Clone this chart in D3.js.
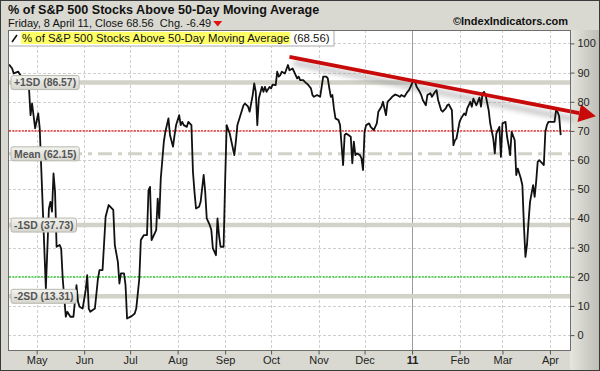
<!DOCTYPE html>
<html>
<head>
<meta charset="utf-8">
<script src="https://cdn.jsdelivr.net/npm/d3@7"></script>
<style>
  html, body { margin: 0; padding: 0; background: #fff; }
  svg { display: block; }
</style>
</head>
<body>
<svg width="600" height="371"></svg>
<script>
// % of S&P 500 stocks above their 50-day MA, Apr 2010 - Apr 2011

const dates = [
  "2010-04-13","2010-04-15","2010-04-16","2010-04-19","2010-04-20","2010-04-23","2010-04-26","2010-04-27","2010-04-28","2010-04-30",
  "2010-05-02","2010-05-03","2010-05-04","2010-05-07","2010-05-09","2010-05-10","2010-05-11","2010-05-12","2010-05-13","2010-05-14",
  "2010-05-16","2010-05-17","2010-05-18","2010-05-20","2010-05-21","2010-05-23","2010-05-25","2010-05-27","2010-05-28","2010-05-29","2010-05-31",
  "2010-06-02","2010-06-03","2010-06-04","2010-06-05","2010-06-08","2010-06-10","2010-06-11","2010-06-13","2010-06-15","2010-06-17",
  "2010-06-20","2010-06-21","2010-06-23","2010-06-24","2010-06-25","2010-06-27","2010-06-28","2010-06-29",
  "2010-07-02","2010-07-04","2010-07-05","2010-07-07","2010-07-08","2010-07-10","2010-07-12","2010-07-13","2010-07-14","2010-07-15",
  "2010-07-18","2010-07-19","2010-07-20","2010-07-21","2010-07-23","2010-07-24","2010-07-26","2010-07-27","2010-07-29","2010-07-30","2010-07-31",
  "2010-08-02","2010-08-03","2010-08-04","2010-08-05","2010-08-07","2010-08-08","2010-08-10","2010-08-11","2010-08-12","2010-08-13",
  "2010-08-15","2010-08-16","2010-08-18","2010-08-19","2010-08-20","2010-08-22","2010-08-23","2010-08-24","2010-08-25","2010-08-26",
  "2010-08-27","2010-08-28","2010-08-29","2010-08-31",
  "2010-09-01","2010-09-02","2010-09-04","2010-09-07","2010-09-08","2010-09-09","2010-09-11","2010-09-13","2010-09-14","2010-09-16",
  "2010-09-17","2010-09-19","2010-09-20","2010-09-21","2010-09-22","2010-09-23","2010-09-25","2010-09-26","2010-09-27","2010-09-28","2010-09-30",
  "2010-10-01","2010-10-02","2010-10-04","2010-10-05","2010-10-06","2010-10-07","2010-10-08","2010-10-10","2010-10-12","2010-10-13",
  "2010-10-15","2010-10-16","2010-10-18","2010-10-19","2010-10-20","2010-10-22","2010-10-23","2010-10-25","2010-10-27","2010-10-28",
  "2010-10-29","2010-10-31",
  "2010-11-02","2010-11-03","2010-11-04","2010-11-06","2010-11-07","2010-11-08","2010-11-09","2010-11-10","2010-11-11","2010-11-12",
  "2010-11-14","2010-11-15","2010-11-16","2010-11-17","2010-11-18","2010-11-19","2010-11-20","2010-11-22","2010-11-23","2010-11-24",
  "2010-11-25","2010-11-26","2010-11-28","2010-11-29","2010-11-30",
  "2010-12-01","2010-12-02","2010-12-04","2010-12-05","2010-12-07","2010-12-09","2010-12-10","2010-12-12","2010-12-13","2010-12-15",
  "2010-12-16","2010-12-18","2010-12-19","2010-12-21","2010-12-22","2010-12-24","2010-12-25","2010-12-27","2010-12-29","2010-12-30","2010-12-31",
  "2011-01-01","2011-01-02","2011-01-03","2011-01-04","2011-01-06","2011-01-07","2011-01-08","2011-01-10","2011-01-11","2011-01-13",
  "2011-01-14","2011-01-16","2011-01-17","2011-01-18","2011-01-20","2011-01-21","2011-01-23","2011-01-24","2011-01-25","2011-01-27",
  "2011-01-28","2011-01-29","2011-01-30","2011-01-31",
  "2011-02-01","2011-02-02","2011-02-04","2011-02-05","2011-02-06","2011-02-07","2011-02-08","2011-02-09","2011-02-10","2011-02-12",
  "2011-02-14","2011-02-15","2011-02-16","2011-02-17","2011-02-18","2011-02-20","2011-02-21","2011-02-23","2011-02-24","2011-02-25",
  "2011-02-26","2011-02-27","2011-02-28",
  "2011-03-01","2011-03-03","2011-03-04","2011-03-05","2011-03-06","2011-03-07","2011-03-09","2011-03-10","2011-03-11","2011-03-13",
  "2011-03-14","2011-03-15","2011-03-16","2011-03-17","2011-03-18","2011-03-19","2011-03-21","2011-03-22","2011-03-23","2011-03-24",
  "2011-03-25","2011-03-27","2011-03-28","2011-03-29","2011-03-30","2011-03-31",
  "2011-04-02","2011-04-04","2011-04-05","2011-04-06","2011-04-07","2011-04-08"
];

const values = [
  92.8,91.4,89.7,90.3,89.4,87.5,84.6,75.4,79.4,70.9,
  76.0,70.9,57.1,16.0,43.4,45.7,42.3,55.4,49.1,30.3,
  30.9,29.7,19.4,6.3,8.0,6.3,6.3,17.1,11.4,9.7,9.1,
  15.4,20.6,9.1,8.0,9.1,19.4,22.3,22.3,40.6,44.6,
  42.9,30.9,25.1,17.7,21.2,21.2,17.1,5.7,
  6.5,7.4,9.1,19.4,32.6,34.3,34.3,49.7,50.8,32.6,
  36.0,46.8,40.0,53.7,66.3,69.7,74.3,68.6,64.6,68.6,72.0,
  75.4,72.0,73.1,72.0,71.4,73.1,72.0,56.0,49.1,43.4,
  44.0,45.7,54.9,49.1,40.0,37.7,36.0,29.7,28.6,27.4,
  40.0,34.3,30.3,30.3,
  52.6,72.0,69.1,61.7,66.3,72.0,75.4,78.8,79.4,78.3,
  76.6,82.3,86.3,83.4,72.0,81.1,85.1,83.4,85.1,83.4,85.1,
  84.6,85.9,85.7,90.3,88.6,89.1,90.3,89.7,92.6,90.8,
  91.4,90.3,88.0,88.6,87.4,87.4,86.8,85.9,84.6,82.3,
  81.7,82.3,
  81.7,85.1,88.6,88.6,88.0,84.6,81.7,82.3,77.7,74.3,
  73.7,72.0,65.1,58.3,68.6,69.1,68.8,68.0,58.9,66.3,
  61.7,62.3,61.7,60.6,56.6,
  69.7,72.0,72.6,71.4,70.3,72.6,76.6,78.3,80.0,75.4,
  80.0,81.1,81.7,82.5,82.3,81.7,82.3,81.7,83.4,84.0,85.1,
  86.3,87.4,86.8,85.1,83.4,82.3,80.6,78.8,82.3,82.9,
  81.7,83.4,84.0,80.6,77.1,76.6,77.7,78.8,79.1,77.1,
  65.1,66.8,67.4,70.3,
  73.1,74.3,76.0,75.4,77.7,78.8,80.0,78.3,81.1,78.8,
  81.4,78.3,82.9,83.4,82.3,77.1,72.6,67.4,62.3,69.1,
  70.3,71.4,61.1,
  72.6,73.1,68.0,65.1,61.7,69.7,66.8,54.9,57.1,53.7,
  51.4,37.7,26.8,30.9,38.8,45.7,51.4,47.4,52.6,59.4,
  60.0,58.9,58.3,69.7,72.0,73.1,
  73.1,73.1,77.1,76.5,75.05,68.56
];

const yTicks = [0, 10, 20, 30, 40, 50, 60, 70, 80, 90, 100];
const bandNames = ["+1SD", "Mean", "-1SD", "-2SD"];
const bandValues = [86.57, 62.15, 37.73, 13.31];
const refLevels = [70, 20];          // red and green dotted lines
const refColors = ["#e81010", "#18c818"];
const trendDates = ["2010-10-13", "2011-05-01"];
const trendValues = [95.4, 75.0];

const lastClose = 68.56, lastChange = -6.49;
const seriesName = "% of S&P 500 Stocks Above 50-Day Moving Average";

const svg = d3.select("svg");
const W = +svg.attr("width"), H = +svg.attr("height");
const m = {left: 8, right: 30, top: 30, bottom: 21};
const pw = W - m.left - m.right, ph = H - m.top - m.bottom;
const parse = d3.timeParse("%Y-%m-%d");
const data = dates.map((d, i) => ({date: parse(d), value: values[i]}));
const font = "Liberation Sans, Arial, sans-serif";

const x = d3.scaleTime()
    .domain([new Date(2010, 3, 12, 7), new Date(2011, 3, 14, 2)])
    .range([m.left, m.left + pw]);
const y = d3.scaleLinear()
    .domain([-5.1, 104.6])
    .range([m.top + ph, m.top]);

const defs = svg.append("defs");
const g1 = defs.append("linearGradient").attr("id", "axisbg").attr("x1", 0).attr("x2", 1).attr("y1", 0).attr("y2", 0);
g1.append("stop").attr("offset", 0).attr("stop-color", "#e6e6de");
g1.append("stop").attr("offset", 1).attr("stop-color", "#bdbdb5");
const g2 = defs.append("linearGradient").attr("id", "lblbg").attr("x1", 0).attr("x2", 0).attr("y1", 0).attr("y2", 1);
g2.append("stop").attr("offset", 0).attr("stop-color", "#f4f4ef");
g2.append("stop").attr("offset", 1).attr("stop-color", "#d6d6cf");
defs.append("filter").attr("id", "blur").attr("x", "-10%").attr("y", "-50%").attr("width", "120%").attr("height", "200%")
  .append("feGaussianBlur").attr("stdDeviation", 2.5);
defs.append("clipPath").attr("id", "plotclip")
  .append("rect").attr("x", m.left).attr("y", m.top).attr("width", pw).attr("height", ph);

// frame
svg.append("rect").attr("width", W).attr("height", H).attr("fill", "#d9d9d1");
svg.append("rect").attr("x", m.left + pw).attr("y", m.top).attr("width", m.right).attr("height", ph + m.bottom)
  .attr("fill", "url(#axisbg)");
svg.append("rect").attr("x", m.left).attr("y", m.top).attr("width", pw).attr("height", ph).attr("fill", "#fff");

// header
svg.append("text").attr("x", 8).attr("y", 14)
  .attr("font-family", font).attr("font-weight", "bold").attr("font-size", 12.6)
  .attr("fill", "#111").text(seriesName);
const sub = svg.append("text").attr("x", 8).attr("y", 26.5)
  .attr("font-family", font).attr("font-size", 11).attr("fill", "#111")
  .text(`Friday, 8 April 11, Close ${lastClose}\u00a0\u00a0Chg. ${lastChange}`);
const subEnd = 8 + sub.node().getComputedTextLength();
svg.append("path")
  .attr("d", `M${subEnd + 2},21 L${subEnd + 11},21 L${subEnd + 6.5},26.5 Z`)
  .attr("fill", "#e01010");
svg.append("text").attr("x", 568).attr("y", 25).attr("text-anchor", "end")
  .attr("font-family", font).attr("font-weight", "bold").attr("font-size", 11)
  .attr("fill", "#111").text("\u00a9IndexIndicators.com");

// grid
const grid = svg.append("g").attr("clip-path", "url(#plotclip)");
grid.selectAll("line.hg").data(yTicks).join("line").attr("class", "hg")
  .attr("x1", m.left).attr("x2", m.left + pw)
  .attr("y1", d => Math.round(y(d)) + 0.5).attr("y2", d => Math.round(y(d)) + 0.5)
  .attr("stroke", "#cfcfcf").attr("stroke-dasharray", "3,2");
const months = d3.timeMonth.range(new Date(2010, 4, 1), new Date(2011, 3, 2));
grid.selectAll("line.vg").data(months).join("line").attr("class", "vg")
  .attr("x1", d => Math.round(x(d)) + 0.5).attr("x2", d => Math.round(x(d)) + 0.5)
  .attr("y1", m.top).attr("y2", m.top + ph)
  .attr("stroke", d => d.getMonth() === 0 ? "#9a9a9a" : "#cfcfcf")
  .attr("stroke-dasharray", d => d.getMonth() === 0 ? null : "3,2");

// sd bands
const bands = bandNames.map((n, i) => ({name: n, value: bandValues[i]}));
grid.selectAll("line.band").data(bands).join("line").attr("class", "band")
  .attr("x1", m.left).attr("x2", m.left + pw)
  .attr("y1", d => y(d.value)).attr("y2", d => y(d.value))
  .attr("stroke", "#d2d2c8").attr("stroke-width", d => d.name === "Mean" ? 3 : 4.5)
  .attr("stroke-dasharray", d => d.name === "Mean" ? "14,6,4,6" : null);

// red / green reference levels
const refs = refLevels.map((v, i) => ({value: v, color: refColors[i]}));
svg.append("g").selectAll("line.ref").data(refs).join("line").attr("class", "ref")
  .attr("x1", m.left + 1).attr("x2", m.left + pw)
  .attr("y1", d => y(d.value)).attr("y2", d => y(d.value))
  .attr("stroke", d => d.color)
  .attr("stroke-width", 1.3).attr("stroke-dasharray", "2,1.2");

// trend arrow shadow
const tp = trendDates.map((d, i) => [x(parse(d)), y(trendValues[i])]);
const ang = Math.atan2(tp[1][1] - tp[0][1], tp[1][0] - tp[0][0]);
const headLen = 17, headW = 9;
const base = [tp[1][0] - headLen * Math.cos(ang), tp[1][1] - headLen * Math.sin(ang)];
svg.append("line")
  .attr("x1", tp[0][0] + 4).attr("y1", tp[0][1] + 6).attr("x2", base[0] - 6).attr("y2", base[1] + 6)
  .attr("stroke", "#999").attr("stroke-width", 6).attr("opacity", 0.5).attr("filter", "url(#blur)");

// main line
svg.append("path").datum(data)
  .attr("clip-path", "url(#plotclip)")
  .attr("fill", "none").attr("stroke", "#111").attr("stroke-width", 1.8).attr("stroke-linejoin", "round")
  .attr("d", d3.line().x(d => x(d.date)).y(d => y(d.value)));

// band labels sit on top of the line
const lbl = svg.append("g");
bands.forEach(b => {
  const t = lbl.append("text").attr("x", 14).attr("y", y(b.value) + 3.7)
    .attr("font-family", font).attr("font-weight", "bold").attr("font-size", 10.4)
    .attr("fill", "#555").text(`${b.name} (${b.value.toFixed(2)})`);
  const w = t.node().getComputedTextLength();
  lbl.insert("rect", "text").attr("x", 11).attr("y", y(b.value) - 7).attr("width", w + 6).attr("height", 14)
    .attr("rx", 2).attr("fill", "url(#lblbg)").attr("stroke", "#b8b8b0");
});

// trend arrow
svg.append("line")
  .attr("x1", tp[0][0]).attr("y1", tp[0][1]).attr("x2", base[0]).attr("y2", base[1])
  .attr("stroke", "#c80a0a").attr("stroke-width", 3.8);
const px = -Math.sin(ang), py = Math.cos(ang);
svg.append("path")
  .attr("d", `M${tp[1][0]},${tp[1][1]} L${base[0] + px * headW},${base[1] + py * headW} L${base[0] - px * headW},${base[1] - py * headW} Z`)
  .attr("fill", "#c80a0a");

// legend box
const leg = svg.append("g");
const legText = leg.append("text").attr("x", 22).attr("y", 41.5)
  .attr("font-family", font).attr("font-size", 11.4).attr("fill", "#111")
  .text(seriesName);
const lw = legText.node().getComputedTextLength();
const vText = leg.append("text").attr("x", 22 + lw + 4).attr("y", 41.5)
  .attr("font-family", font).attr("font-size", 11.4).attr("fill", "#111")
  .text(`(${lastClose})`);
const vw = vText.node().getComputedTextLength();
leg.insert("rect", "text").attr("x", m.left + 0.5).attr("y", m.top + 0.5).attr("width", 22 + lw + 4 + vw + 4 - m.left).attr("height", 15.5)
  .attr("fill", "#fff").attr("stroke", "#aaa");
leg.insert("rect", "text").attr("x", 21).attr("y", 32).attr("width", lw + 2).attr("height", 12).attr("fill", "#ffff66");
leg.append("path").attr("d", "M12,42 L17,35").attr("stroke", "#111").attr("stroke-width", 1.6);

// plot border
svg.append("rect").attr("x", m.left + 0.5).attr("y", m.top + 0.5).attr("width", pw).attr("height", ph)
  .attr("fill", "none").attr("stroke", "#6e6e6e");

// y axis (right)
const yAxis = svg.append("g").attr("transform", `translate(${m.left + pw + 0.5},0)`)
  .call(d3.axisRight(y).tickValues(yTicks).tickSize(4).tickPadding(3));
yAxis.select(".domain").remove();
yAxis.selectAll("line").attr("stroke", "#555");
yAxis.selectAll("text").attr("font-family", font).attr("font-size", 11).attr("fill", "#222");

// x axis
const xAxis = svg.append("g").attr("transform", `translate(0,${m.top + ph + 0.5})`)
  .call(d3.axisBottom(x).tickValues(months).tickSize(4).tickPadding(2)
    .tickFormat(d => d.getMonth() === 0 ? d3.timeFormat("%y")(d) : d3.timeFormat("%b")(d)));
xAxis.select(".domain").remove();
xAxis.selectAll("line").attr("stroke", "#555");
xAxis.selectAll("text").attr("font-family", font).attr("font-size", 11).attr("fill", "#222")
  .attr("font-weight", d => d.getMonth() === 0 ? "bold" : null);

// outer border
svg.append("rect").attr("x", 0.5).attr("y", 0.5).attr("width", W - 1).attr("height", H - 1)
  .attr("fill", "none").attr("stroke", "#3a3a3a");
</script>
</body>
</html>
